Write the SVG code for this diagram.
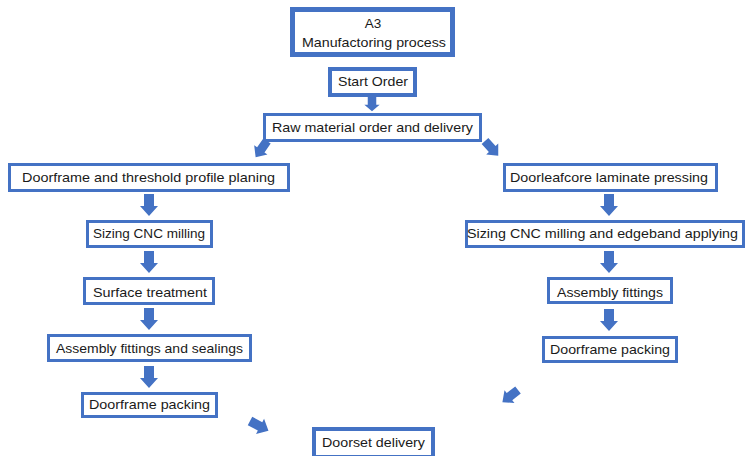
<svg xmlns="http://www.w3.org/2000/svg" width="747" height="456" viewBox="0 0 747 456">
<style>
.b{fill:#fff;stroke:#4472C4;stroke-width:3}
.t{font-family:"Liberation Sans","Open Sans",sans-serif;font-size:13.5px;fill:#1a1a1a;text-anchor:middle}
.a{fill:#4472C4}
</style>
<defs>
<path id="arr" d="M-5,0 H5 V12 H9 L0,22 L-9,12 H-5 Z"/>
</defs>
<rect width="747" height="456" fill="#fff"/>
<g id="title">
<rect class="b" style="stroke-width:5" x="292.5" y="9.5" width="160" height="45"/>
<text class="t" x="373" y="28" font-size="14">A3</text>
<text class="t" x="374" y="47" textLength="144" lengthAdjust="spacingAndGlyphs">Manufactoring process</text>
</g>
<g id="start">
<rect class="b" style="stroke-width:4" x="330" y="69" width="85" height="26"/>
<text class="t" x="373" y="86" textLength="70" lengthAdjust="spacingAndGlyphs">Start Order</text>
</g>
<g id="raw">
<rect class="b" x="264.5" y="114.5" width="216" height="26"/>
<text class="t" x="372.5" y="132" textLength="201" lengthAdjust="spacingAndGlyphs">Raw material order and delivery</text>
</g>
<g id="planing">
<rect class="b" x="9.5" y="164.5" width="279" height="26"/>
<text class="t" x="148.5" y="182" textLength="253" lengthAdjust="spacingAndGlyphs">Doorframe and threshold profile planing</text>
</g>
<g id="sizingL">
<rect class="b" x="87.5" y="221.5" width="124" height="25"/>
<text class="t" x="149" y="238" textLength="112" lengthAdjust="spacingAndGlyphs">Sizing CNC milling</text>
</g>
<g id="surface">
<rect class="b" x="84.5" y="278.5" width="129" height="25"/>
<text class="t" x="150" y="297" textLength="114" lengthAdjust="spacingAndGlyphs">Surface treatment</text>
</g>
<g id="assemblyL">
<rect class="b" x="48.5" y="335.5" width="202" height="25"/>
<text class="t" x="149.5" y="353" textLength="187" lengthAdjust="spacingAndGlyphs">Assembly fittings and sealings</text>
</g>
<g id="packingL">
<rect class="b" x="82.5" y="393.5" width="134" height="23"/>
<text class="t" x="149.5" y="409" textLength="121" lengthAdjust="spacingAndGlyphs">Doorframe packing</text>
</g>
<g id="pressing">
<rect class="b" x="504.5" y="164.5" width="212" height="26"/>
<text class="t" x="609" y="182" textLength="198" lengthAdjust="spacingAndGlyphs">Doorleafcore laminate pressing</text>
</g>
<g id="sizingR">
<rect class="b" x="466.5" y="221.5" width="277" height="25"/>
<text class="t" x="602.5" y="238" textLength="271" lengthAdjust="spacingAndGlyphs">Sizing CNC milling and edgeband applying</text>
</g>
<g id="assemblyR">
<rect class="b" x="548.5" y="278.5" width="123" height="24"/>
<text class="t" x="610" y="297" textLength="106" lengthAdjust="spacingAndGlyphs">Assembly fittings</text>
</g>
<g id="packingR">
<rect class="b" x="543.5" y="337.5" width="133" height="24"/>
<text class="t" x="610" y="354" textLength="120" lengthAdjust="spacingAndGlyphs">Doorframe packing</text>
</g>
<g id="delivery">
<rect class="b" style="stroke-width:4" x="314" y="429" width="119" height="28"/>
<text class="t" x="373.5" y="447" textLength="103" lengthAdjust="spacingAndGlyphs">Doorset delivery</text>
</g>
<g id="connectors" class="a">
<use href="#arr" transform="translate(372,97) scale(0.85,0.65)"/>
<use href="#arr" transform="translate(267,141) rotate(35) scale(0.9)"/>
<use href="#arr" transform="translate(485,141) rotate(-42) scale(0.9)"/>
<use href="#arr" transform="translate(149,194)"/>
<use href="#arr" transform="translate(149,251)"/>
<use href="#arr" transform="translate(149,308)"/>
<use href="#arr" transform="translate(149,366)"/>
<use href="#arr" transform="translate(609,194)"/>
<use href="#arr" transform="translate(609,251)"/>
<use href="#arr" transform="translate(609,309)"/>
<use href="#arr" transform="translate(250,421) rotate(-62) scale(0.95)"/>
<use href="#arr" transform="translate(518,390) rotate(52) scale(0.9)"/>
</g>
</svg>
